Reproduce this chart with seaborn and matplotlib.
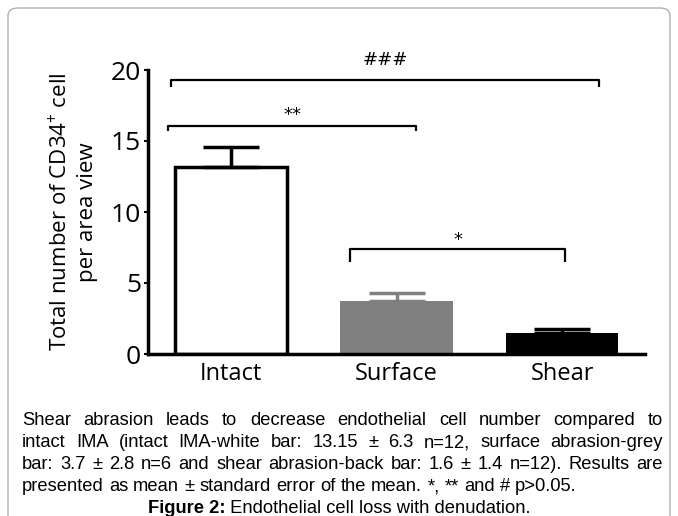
import matplotlib
matplotlib.use("Agg")
import matplotlib.pyplot as plt
import seaborn as sns
import pandas as pd
from matplotlib.patches import FancyBboxPatch

plt.rcParams["mathtext.fontset"] = "custom"
plt.rcParams["mathtext.rm"] = "Open Sans"
plt.rcParams["mathtext.it"] = "Open Sans"
plt.rcParams["mathtext.default"] = "rm"

# ---- data ----
categories = ["Intact", "Surface", "Shear"]
means = [13.2, 3.75, 1.45]
sems = [1.4, 0.57, 0.29]
bar_colors = ["white", "#808080", "black"]
err_colors = ["black", "#808080", "black"]

# significance brackets: (x_start, x_end, y, tick, label offset, label)
brackets = [(-0.36, 2.22, 19.3, 0.5, 0.55, "###"),
            (-0.38, 1.12, 16.05, 0.35, -0.1, "**"),
            (0.72, 2.02, 7.4, 0.9, -0.25, "*")]

ylabel = "Total number of CD34$^{+}$ cell\nper area view"
caption_lines = [
    "Shear abrasion leads to decrease endothelial cell number compared to",
    "intact IMA (intact IMA-white bar: 13.15 ± 6.3 n=12, surface abrasion-grey",
    "bar: 3.7 ± 2.8 n=6 and shear abrasion-back bar: 1.6 ± 1.4 n=12). Results are",
    "presented as mean ± standard error of the mean. *, ** and # p>0.05.",
]
fig_bold = "Figure 2:"
fig_rest = " Endothelial cell loss with denudation."

# ---- figure ----
W, H = 678, 516
fig = plt.figure(figsize=(W / 100, H / 100), dpi=100)
fig.patch.set_facecolor("white")

border = FancyBboxPatch((8 / W, -0.2), (670 - 8) / W, (H - 8) / H + 0.2,
                        boxstyle="round,pad=0,rounding_size=0.015",
                        transform=fig.transFigure, fill=False,
                        edgecolor="#b0b0b0", linewidth=1.0)
fig.patches.append(border)

ax = fig.add_axes([148 / W, (H - 354) / H, (645 - 148) / W, (354 - 70) / H])
df = pd.DataFrame({"cat": categories, "val": means})
sns.barplot(data=df, x="cat", y="val", hue="cat", palette=bar_colors,
            legend=False, ax=ax, width=0.68, linewidth=0, saturation=1)

for i, p in enumerate(ax.patches):
    if i == 0:
        p.set_edgecolor("black")
        p.set_linewidth(2.5)
    else:
        p.set_edgecolor(bar_colors[i])
        p.set_linewidth(0)

for i, (m, s) in enumerate(zip(means, sems)):
    ax.errorbar(i, m, yerr=[[0], [s]], fmt="none", ecolor=err_colors[i],
                elinewidth=2.5, capsize=20, capthick=2.5, zorder=1)

for x0, x1, y, t, off, lab in brackets:
    ax.plot([x0, x0, x1, x1], [y - t, y, y, y - t], color="black",
            lw=1.6, solid_capstyle="butt", clip_on=False)
    ax.text((x0 + x1) / 2, y + 0.25 + off, lab, ha="center", va="bottom",
            fontsize=13, family="DejaVu Sans", color="black")

ax.set_xlim(-0.5, 2.5)
ax.set_ylim(0, 20)
ax.set_yticks([0, 5, 10, 15, 20])
ax.set_xlabel("")
ax.set_ylabel(ylabel, fontsize=16, family=["Open Sans", "DejaVu Sans"],
              labelpad=9, linespacing=1.35, color="black")
for sp in ["top", "right"]:
    ax.spines[sp].set_visible(False)
for sp in ["left", "bottom"]:
    ax.spines[sp].set_linewidth(2.5)
    ax.spines[sp].set_color("black")
ax.tick_params(axis="y", length=3, width=1.5, labelsize=19, pad=2)
ax.tick_params(axis="x", length=0, labelsize=17, pad=6)
for lab in ax.get_yticklabels():
    lab.set_family("Open Sans")
for lab in ax.get_xticklabels():
    lab.set_family("Open Sans")
ax.set_facecolor("white")

# ---- caption (justified) ----
fig.canvas.draw()
renderer = fig.canvas.get_renderer()
cap_size = 13.2
cap_font = "Liberation Sans"
left_px, right_px = 22, 663
line_y = [425, 447, 469, 491]
fig_y = 513

sp = fig.text(0, 0, "a a", fontsize=cap_size, family=cap_font)
sp2 = fig.text(0, 0, "aa", fontsize=cap_size, family=cap_font)
space_w = sp.get_window_extent(renderer).width - sp2.get_window_extent(renderer).width
sp.remove(); sp2.remove()

for li, line in enumerate(caption_lines):
    words = line.split(" ")
    ts = [fig.text(0, 1 - line_y[li] / H, w, fontsize=cap_size,
                   family=cap_font, va="baseline", ha="left")
          for w in words]
    widths = [t.get_window_extent(renderer).width for t in ts]
    if li < len(caption_lines) - 1:
        gap = (right_px - left_px - sum(widths)) / (len(words) - 1)
    else:
        gap = space_w
    x = left_px
    for t, w in zip(ts, widths):
        t.set_x(x / W)
        x += w + gap

tb = fig.text(0, 1 - fig_y / H, fig_bold, fontsize=cap_size, family=cap_font,
              fontweight="bold", va="baseline", ha="left")
tr = fig.text(0, 1 - fig_y / H, fig_rest, fontsize=cap_size, family=cap_font,
              va="baseline", ha="left")
wb = tb.get_window_extent(renderer).width
wr = tr.get_window_extent(renderer).width
start = (W - (wb + wr)) / 2
tb.set_x(start / W)
tr.set_x((start + wb) / W)

fig.savefig("out.png", dpi=100, facecolor="white")
